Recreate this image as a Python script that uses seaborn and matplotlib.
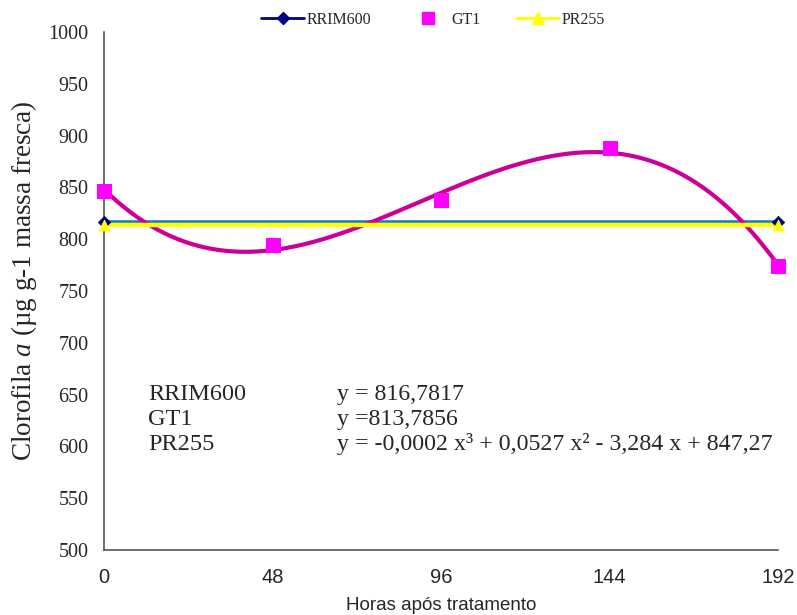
import numpy as np
import pandas as pd
import matplotlib
matplotlib.use("Agg")
import matplotlib.pyplot as plt
import seaborn as sns
from matplotlib.lines import Line2D

hours = [0, 48, 96, 144, 192]
gt1 = [847, 794, 838, 888, 774]
rrim600_fit = 816.7817
pr255_fit = 813.7856
eq_labels = ["RRIM600", "GT1", "PR255"]
eq_texts = ["y = 816,7817", "y =813,7856",
            "y = -0,0002 x³ + 0,0527 x² - 3,284 x + 847,27"]

sns.set_style("white")
plt.rcParams['font.family'] = ['Liberation Serif', 'DejaVu Serif']
plt.rcParams['mathtext.fontset'] = 'custom'
plt.rcParams['mathtext.rm'] = 'Liberation Serif'
plt.rcParams['mathtext.it'] = 'Liberation Serif:italic'

fig = plt.figure(figsize=(7.97, 6.15), dpi=100)
ax = fig.add_axes([104/797, 65/615, 674/797, 518/615])

# cubic trendline for GT1 data
coef = np.polyfit(hours, gt1, 3)
xs = np.linspace(0, 192, 300)
df_curve = pd.DataFrame({"x": xs, "y": np.polyval(coef, xs)})
sns.lineplot(data=df_curve, x="x", y="y", ax=ax, color="#CC0099", lw=3, zorder=3)

df_r = pd.DataFrame({"x": [0, 192], "y": [rrim600_fit, rrim600_fit]})
df_p = pd.DataFrame({"x": [0, 192], "y": [pr255_fit, pr255_fit]})
sns.lineplot(data=df_r, x="x", y="y", ax=ax, color="#1F7FC4", lw=2.6, zorder=2)
sns.scatterplot(data=df_r, x="x", y="y", ax=ax, marker="D", color="#000080", s=40,
                edgecolor="#000080", zorder=4, clip_on=False)
sns.lineplot(data=df_p, x="x", y="y", ax=ax, color="#FFFF00", lw=3.2, zorder=3)
sns.scatterplot(data=df_p, x="x", y="y", ax=ax, marker="^", color="#FFFF00", s=60,
                edgecolor="#FFFF00", zorder=4, clip_on=False)

df_g = pd.DataFrame({"x": hours, "y": gt1})
sns.scatterplot(data=df_g, x="x", y="y", ax=ax, marker="s", color="#FF00FF", s=90,
                edgecolor="#FF00FF", zorder=5, clip_on=False)

ax.set_xlim(0, 192)
ax.set_ylim(500, 1000)
ax.set_xticks(hours)
ax.set_yticks(np.arange(500, 1001, 50))
for s in ["top", "right"]:
    ax.spines[s].set_visible(False)
for s in ["left", "bottom"]:
    ax.spines[s].set_color("#555555")
    ax.spines[s].set_linewidth(1.2)
ax.tick_params(axis="y", direction="out", length=5, color="#555555", labelsize=14.5, pad=6)
ax.tick_params(axis="x", direction="in", length=6, color="#555555", labelsize=14.5, pad=13)
for lab in ax.get_xticklabels():
    lab.set_family(["Liberation Sans", "DejaVu Sans"])

ax.set_xlabel("Horas após tratamento", fontsize=13.5, family=["Liberation Sans", "DejaVu Sans"], labelpad=7)
ax.set_ylabel(r"Clorofila $\it{a}$ (µg g-1 massa fresca)", fontsize=19.5)
ax.yaxis.set_label_coords(-0.097, 0.52)

for i, (l, t) in enumerate(zip(eq_labels, eq_texts)):
    yy = 650 - i * 24
    ax.text(12.5, yy, l, fontsize=17.5, va="center")
    ax.text(66.4, yy, t, fontsize=17.2, va="center")

handles = [
    Line2D([], [], color="#000080", marker="D", markersize=6, lw=2),
    Line2D([], [], color="#FF00FF", marker="s", markersize=9, lw=0),
    Line2D([], [], color="#FFFF00", marker="^", markersize=8, lw=2),
]
fig.legend(handles, ["RRIM600", "GT1", "PR255"], loc="center", bbox_to_anchor=(433/797, 1 - 20/615),
           ncol=3, frameon=False, fontsize=11.5, handlelength=2.7, columnspacing=2.2, handletextpad=0.15)

fig.savefig("out.png", dpi=100)
